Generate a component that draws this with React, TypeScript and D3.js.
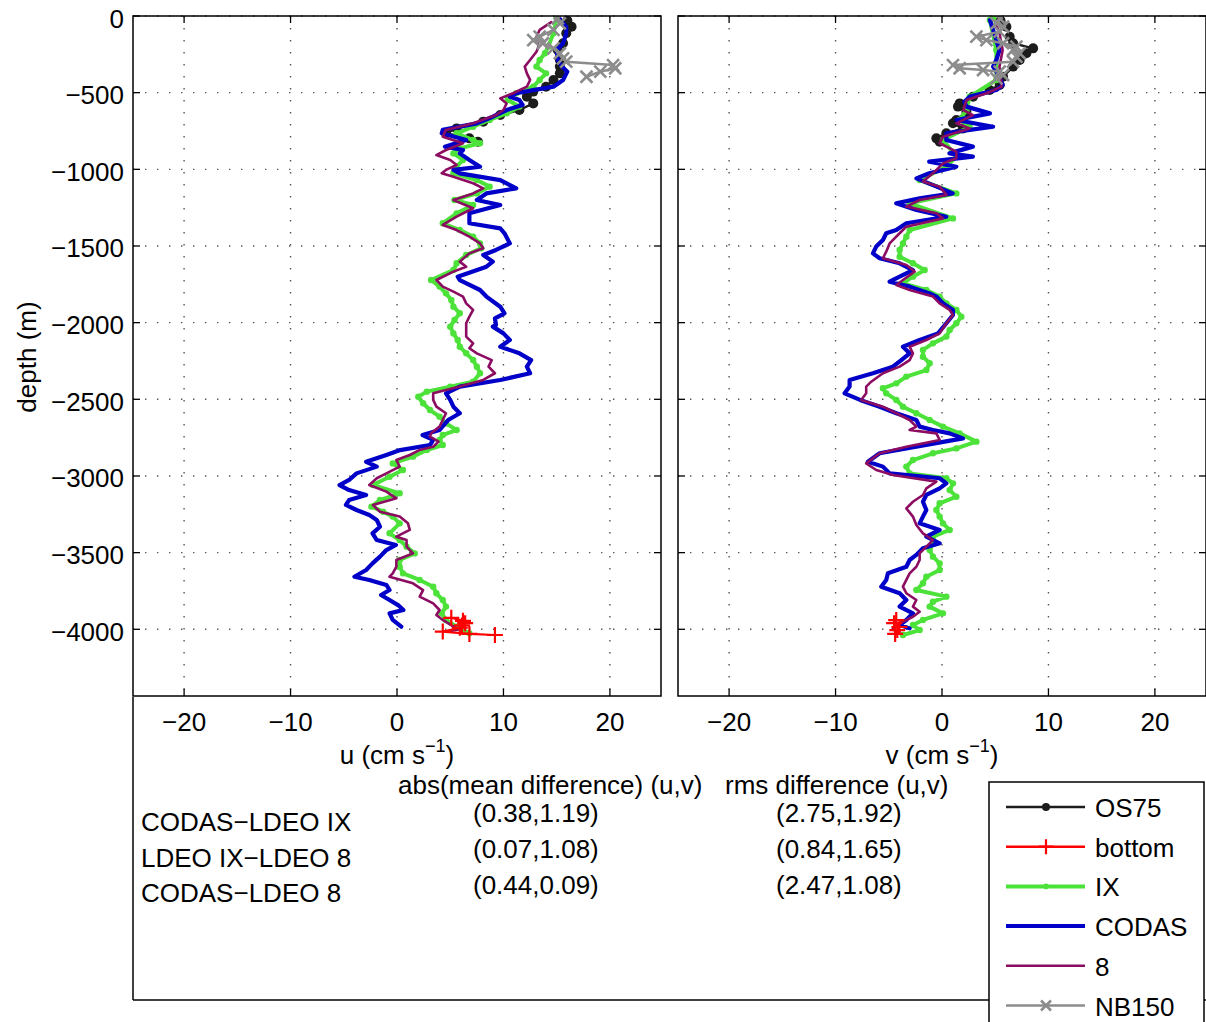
import React from 'react';
import * as d3 from 'd3';

// ---------- data: [depth (m), velocity (cm/s)] ----------
const DEPTH_TICKS = [0, -500, -1000, -1500, -2000, -2500, -3000, -3500, -4000];
const VEL_TICKS = [-20, -10, 0, 10, 20];

const uOS75: [number, number][] = [[-30,16.0],[-70,16.4],[-113,15.9],[-178,15.6],[-222,15.1],[-287,15.3],[-330,15.3],[-374,15.3],[-417,14.7],[-461,14.0],[-493,12.8],[-526,12.2],[-570,12.8],[-613,11.5],[-646,9.7],[-689,8.1],[-733,5.6],[-765,4.6],[-798,6.8],[-820,7.6]];
const uBottom: [number, number][] = [[-3925,5.1],[-3945,6.2],[-3960,6.4],[-3975,6.1],[-3990,5.9],[-4015,4.3],[-4030,6.8],[-4037,9.2]];
const uIX: [number, number][] = [[-15,15.0],[-113,14.7],[-200,14.2],[-243,13.9],[-287,13.4],[-330,13.1],[-374,14.0],[-417,13.4],[-461,12.8],[-504,11.2],[-548,10.4],[-591,11.5],[-635,10.3],[-678,8.7],[-722,7.15],[-765,5.6],[-809,7.15],[-830,7.8],[-863,5.9],[-896,5.3],[-939,6.2],[-983,5.6],[-1026,5.3],[-1070,7.5],[-1113,8.7],[-1157,7.5],[-1200,5.4],[-1233,7.15],[-1287,5.6],[-1352,4.3],[-1396,5.9],[-1439,7.15],[-1483,7.8],[-1515,7.9],[-1559,6.5],[-1613,5.6],[-1657,5.3],[-1722,3.2],[-1765,4.0],[-1809,4.6],[-1852,5.1],[-1896,5.3],[-1939,5.9],[-1983,5.4],[-2026,5.0],[-2070,5.3],[-2113,5.7],[-2157,5.9],[-2200,6.5],[-2244,7.15],[-2287,7.5],[-2330,7.8],[-2385,7.15],[-2417,5.0],[-2450,2.8],[-2483,2.0],[-2526,2.45],[-2570,3.1],[-2613,4.0],[-2657,4.6],[-2700,5.6],[-2733,4.3],[-2765,4.0],[-2798,4.3],[-2831,2.8],[-2874,1.5],[-2918,-0.4],[-2961,0.56],[-3005,-0.7],[-3059,-2.26],[-3113,0.25],[-3157,-1.6],[-3200,-2.4],[-3233,-1.3],[-3265,-0.4],[-3309,0.25],[-3374,-0.7],[-3418,0.25],[-3461,0.9],[-3505,1.66],[-3548,0.25],[-3592,0.25],[-3635,0.56],[-3678,2.13],[-3722,3.4],[-3765,3.7],[-3809,4.3],[-3852,4.6],[-3896,4.2],[-3939,4.6],[-3983,5.6],[-4026,6.8]];
const uCODAS: [number, number][] = [[-20,15.3],[-70,15.9],[-113,15.9],[-178,15.6],[-222,15.0],[-287,15.1],[-330,15.5],[-363,16.0],[-417,15.6],[-461,14.7],[-483,12.8],[-504,11.2],[-526,10.6],[-548,11.5],[-580,11.8],[-613,10.3],[-657,9.0],[-700,7.5],[-743,4.3],[-765,4.2],[-809,6.5],[-852,4.5],[-874,6.2],[-896,5.9],[-939,6.8],[-983,7.8],[-1004,5.3],[-1026,5.9],[-1070,9.7],[-1124,11.2],[-1157,8.4],[-1200,7.5],[-1233,9.7],[-1287,6.8],[-1352,6.8],[-1385,9.7],[-1417,10.1],[-1483,10.6],[-1526,9.3],[-1559,8.1],[-1602,9.0],[-1635,8.4],[-1700,5.7],[-1722,5.9],[-1787,7.8],[-1830,8.4],[-1896,9.7],[-1939,10.1],[-1972,9.2],[-2015,9.3],[-2026,9.0],[-2070,10.0],[-2113,10.6],[-2157,9.7],[-2200,11.5],[-2244,12.6],[-2287,12.2],[-2330,12.5],[-2374,9.7],[-2417,5.9],[-2461,4.6],[-2504,5.0],[-2548,5.3],[-2591,5.9],[-2635,4.8],[-2700,4.0],[-2733,2.4],[-2765,3.4],[-2798,3.1],[-2831,0.3],[-2863,-1.0],[-2907,-2.9],[-2939,-1.9],[-2983,-3.8],[-3026,-4.5],[-3059,-5.4],[-3092,-4.5],[-3124,-2.9],[-3157,-4.5],[-3189,-4.8],[-3222,-3.8],[-3255,-2.6],[-3287,-1.9],[-3331,-1.6],[-3374,-2.3],[-3418,-1.9],[-3450,-0.1],[-3483,-1.0],[-3526,-1.6],[-3570,-2.3],[-3613,-2.9],[-3657,-4.0],[-3678,-2.6],[-3711,-1.0],[-3744,-0.7],[-3776,-1.5],[-3809,-0.7],[-3842,0.1],[-3874,0.6],[-3896,-0.7],[-3939,-0.4],[-3983,0.4]];
const u8: [number, number][] = [[-40,14.5],[-91,13.4],[-135,13.1],[-200,13.3],[-233,13.1],[-287,12.5],[-330,12.0],[-374,12.2],[-417,12.5],[-461,12.2],[-504,10.9],[-537,9.7],[-570,10.3],[-613,10.0],[-646,9.3],[-700,7.15],[-743,4.6],[-787,4.3],[-830,6.2],[-874,4.6],[-907,3.7],[-939,5.0],[-972,5.6],[-1004,4.6],[-1026,4.2],[-1048,5.3],[-1091,7.15],[-1124,8.1],[-1157,7.15],[-1200,5.3],[-1254,7.15],[-1309,5.6],[-1363,4.3],[-1396,5.6],[-1439,6.8],[-1483,7.8],[-1515,8.1],[-1548,6.8],[-1602,5.9],[-1635,6.5],[-1667,5.3],[-1722,3.7],[-1765,4.3],[-1798,5.3],[-1830,6.2],[-1874,6.5],[-1917,7.15],[-1961,6.8],[-2004,6.5],[-2048,6.5],[-2091,6.5],[-2135,7.15],[-2167,6.8],[-2200,7.5],[-2244,8.9],[-2287,8.6],[-2330,9.2],[-2374,8.1],[-2417,5.9],[-2461,3.4],[-2504,3.4],[-2548,3.7],[-2591,4.6],[-2635,4.3],[-2678,4.0],[-2722,3.2],[-2744,3.1],[-2776,3.9],[-2809,3.4],[-2831,2.1],[-2863,1.2],[-2896,-0.06],[-2939,0.25],[-2983,-1.0],[-3015,-1.9],[-3059,-2.6],[-3102,-1.0],[-3146,-0.06],[-3189,-2.26],[-3233,-1.6],[-3265,0.25],[-3309,1.03],[-3352,1.2],[-3396,-0.06],[-3418,0.9],[-3461,0.9],[-3505,1.5],[-3548,-0.06],[-3592,-0.06],[-3635,-0.4],[-3657,-0.7],[-3700,1.5],[-3744,2.45],[-3787,2.13],[-3831,3.4],[-3874,4.0],[-3907,3.7],[-3939,4.3],[-3983,5.3],[-4000,5.9],[-4015,4.6]];
const uNB150: [number, number][] = [[-15,15.1],[-48,15.3],[-91,14.7],[-135,13.4],[-157,12.8],[-178,13.7],[-211,14.7],[-243,15.3],[-276,15.6],[-298,15.9],[-320,20.3],[-341,20.5],[-363,19.1],[-396,17.8]];

const vOS75: [number, number][] = [[-30,5.5],[-70,6.05],[-135,6.36],[-178,6.68],[-211,8.56],[-243,7.93],[-287,7.3],[-330,6.68],[-396,5.74],[-450,5.42],[-483,4.48],[-526,2.92],[-570,1.66],[-591,1.5],[-624,2.29],[-678,1.35],[-700,1.03],[-733,1.97],[-765,0.41],[-798,-0.53],[-820,-0.22]];
const vBottom: [number, number][] = [[-3940,-4.3],[-3960,-4.5],[-3985,-4.0],[-4005,-4.2],[-4030,-4.4]];
const vIX: [number, number][] = [[-15,4.8],[-26,4.5],[-222,5.1],[-417,5.1],[-526,2.6],[-613,2.3],[-678,1.66],[-722,2.6],[-809,0.09],[-917,1.35],[-983,0.41],[-1070,-2.1],[-1157,1.35],[-1222,-3.04],[-1320,1.03],[-1396,-3.04],[-1439,-3.35],[-1483,-3.67],[-1526,-3.98],[-1570,-3.98],[-1613,-2.73],[-1657,-1.63],[-1700,-2.73],[-1744,-3.67],[-1787,-1.47],[-1830,-0.22],[-1874,0.41],[-1917,1.35],[-1961,1.82],[-2004,1.35],[-2048,0.72],[-2091,0.41],[-2135,-0.85],[-2178,-1.79],[-2222,-1.79],[-2265,-1.16],[-2309,-1.47],[-2352,-3.35],[-2396,-4.29],[-2428,-5.55],[-2461,-5.24],[-2504,-4.29],[-2548,-3.67],[-2591,-2.41],[-2635,-1.16],[-2678,0.09],[-2722,1.66],[-2776,3.23],[-2820,1.35],[-2852,-0.85],[-2896,-2.73],[-2939,-3.35],[-2983,-3.04],[-3015,0.41],[-3048,1.03],[-3092,0.72],[-3135,1.35],[-3178,-0.22],[-3222,-0.53],[-3265,-0.22],[-3309,0.09],[-3352,0.72],[-3396,-0.85],[-3439,-0.85],[-3483,-1.16],[-3526,-0.85],[-3570,-0.22],[-3613,-0.22],[-3657,-1.47],[-3700,-1.79],[-3744,-2.41],[-3787,0.41],[-3820,-0.85],[-3852,-1.16],[-3896,0.09],[-3939,-1.79],[-3972,-2.73],[-4005,-2.1],[-4037,-3.67]];
const vCODAS: [number, number][] = [[-26,4.5],[-91,4.8],[-157,5.1],[-222,5.4],[-287,5.1],[-330,4.8],[-396,5.4],[-450,5.7],[-483,5.1],[-526,2.6],[-559,2.1],[-591,2.3],[-635,4.5],[-678,1.35],[-722,4.8],[-765,0.4],[-809,0.4],[-852,2.9],[-896,0.7],[-917,2.9],[-950,-1.2],[-983,1.35],[-1004,0.1],[-1026,-1.2],[-1059,-2.4],[-1113,-0.5],[-1157,1.0],[-1189,-2.1],[-1222,-4.3],[-1265,-2.4],[-1309,0.4],[-1352,-3.35],[-1396,-4.3],[-1417,-5.24],[-1461,-5.55],[-1504,-6.18],[-1548,-6.49],[-1580,-5.86],[-1613,-3.98],[-1657,-2.73],[-1700,-3.98],[-1733,-4.92],[-1765,-3.04],[-1809,-1.16],[-1830,-0.53],[-1874,0.09],[-1917,1.03],[-1950,1.03],[-2004,0.41],[-2070,-0.38],[-2113,-2.1],[-2157,-3.67],[-2200,-3.04],[-2244,-3.82],[-2287,-4.61],[-2330,-6.49],[-2374,-8.68],[-2417,-8.68],[-2461,-9.15],[-2504,-7.7],[-2548,-5.86],[-2591,-4.29],[-2635,-2.41],[-2678,-2.1],[-2700,-0.85],[-2722,0.72],[-2755,1.97],[-2809,-2.41],[-2852,-5.86],[-2907,-6.96],[-2939,-5.55],[-2983,-4.92],[-3015,-0.22],[-3048,0.41],[-3081,-0.22],[-3124,-1.47],[-3168,-1.79],[-3222,-1.47],[-3265,-1.79],[-3309,-2.1],[-3352,-0.22],[-3396,-1.47],[-3439,-0.22],[-3472,-1.79],[-3515,-2.41],[-3548,-3.04],[-3592,-3.35],[-3635,-5.08],[-3678,-5.24],[-3722,-5.71],[-3765,-3.98],[-3809,-3.35],[-3852,-3.98],[-3896,-2.73],[-3939,-3.35],[-3972,-3.98],[-3994,-3.04]];
const v8: [number, number][] = [[-40,5.0],[-113,5.4],[-222,5.7],[-330,5.4],[-461,5.6],[-504,4.2],[-548,2.3],[-613,2.0],[-646,2.9],[-700,1.35],[-733,2.6],[-787,0.09],[-830,-0.22],[-885,1.35],[-928,1.35],[-961,0.09],[-1026,-0.85],[-1080,-1.79],[-1113,-0.22],[-1167,0.41],[-1200,-2.1],[-1243,-3.35],[-1287,-0.53],[-1320,0.09],[-1374,-3.35],[-1417,-3.98],[-1483,-4.92],[-1537,-5.24],[-1580,-5.55],[-1624,-3.35],[-1667,-2.57],[-1722,-3.67],[-1754,-4.29],[-1787,-3.04],[-1830,-0.85],[-1874,-0.22],[-1917,0.72],[-1950,1.03],[-2004,0.41],[-2070,-0.22],[-2113,-1.47],[-2157,-3.04],[-2200,-2.73],[-2244,-3.04],[-2287,-3.98],[-2330,-5.55],[-2385,-6.65],[-2417,-7.12],[-2461,-7.12],[-2504,-7.59],[-2548,-5.55],[-2591,-4.29],[-2635,-3.04],[-2678,-2.41],[-2700,-3.04],[-2722,-0.53],[-2765,-0.22],[-2809,-3.35],[-2852,-5.86],[-2918,-7.12],[-2961,-6.18],[-2994,-4.61],[-3037,-0.53],[-3081,-1.47],[-3124,-1.79],[-3168,-2.73],[-3211,-3.35],[-3265,-2.73],[-3320,-2.41],[-3374,-1.79],[-3418,-0.85],[-3461,-1.47],[-3505,-2.1],[-3548,-2.1],[-3592,-2.41],[-3635,-3.04],[-3678,-3.35],[-3722,-3.67],[-3765,-3.35],[-3809,-2.41],[-3852,-2.73],[-3885,-2.1],[-3918,-2.73],[-3961,-3.98],[-3994,-4.61],[-4015,-3.98]];
const vNB150: [number, number][] = [[-15,5.42],[-48,5.11],[-70,5.74],[-102,5.42],[-135,3.23],[-157,4.17],[-178,5.74],[-200,6.99],[-222,6.68],[-243,7.3],[-265,6.99],[-298,6.68],[-320,1.03],[-341,1.66],[-352,3.86],[-363,5.42],[-385,5.74],[-407,5.11]];

const LEGEND_NAMES = ['OS75', 'bottom', 'IX', 'CODAS', '8', 'NB150'];
const STAT_LABELS = ['CODAS\u2212LDEO IX', 'LDEO IX\u2212LDEO 8', 'CODAS\u2212LDEO 8'];
const MEAN_DIFF = ['(0.38,1.19)', '(0.07,1.08)', '(0.44,0.09)'];
const RMS_DIFF = ['(2.75,1.92)', '(0.84,1.65)', '(2.47,1.08)'];

// ---------- styling ----------
type MarkerType = 'dot' | 'plus' | 'small' | 'none' | 'x';
interface Style { color: string; width: number; marker: MarkerType; }
const STYLES: Style[] = [
  { color: '#1c1c1c', width: 2.4, marker: 'dot' },
  { color: '#ff0000', width: 2.2, marker: 'plus' },
  { color: '#4ce23a', width: 4, marker: 'small' },
  { color: '#0000c8', width: 4.2, marker: 'none' },
  { color: '#8c0c62', width: 2.6, marker: 'none' },
  { color: '#8c8c8c', width: 2.5, marker: 'x' },
];
const DRAW_ORDER = [0, 2, 3, 4, 1, 5];

const W = 1206, H = 1022;
const TOP = 16, BOT = 696;
const FONT = '"Liberation Sans", Arial, Helvetica, sans-serif';
const FS = 26;

function Marker({ type, x, y, color, legend }: { type: MarkerType; x: number; y: number; color: string; legend?: boolean }) {
  if (type === 'dot') return <circle cx={x} cy={y} r={legend ? 4 : 5} fill={color} />;
  if (type === 'small') return <circle cx={x} cy={y} r={legend ? 2.8 : 3.2} fill={color} />;
  if (type === 'plus') {
    const s = legend ? 7.5 : 8;
    return <path d={`M${x - s},${y}H${x + s}M${x},${y - s}V${y + s}`} stroke={color} strokeWidth={2.2} fill="none" />;
  }
  if (type === 'x') {
    const s = legend ? 5 : 6;
    return <path d={`M${x - s},${y - s}L${x + s},${y + s}M${x - s},${y + s}L${x + s},${y - s}`} stroke={color} strokeWidth={2.6} fill="none" />;
  }
  return null;
}

const fmt = (v: number) => (v < 0 ? '\u2212' + Math.abs(v) : String(v));

function Panel({ x0, x1, series, showY, label, id }: { x0: number; x1: number; series: [number, number][][]; showY: boolean; label: string; id: string }) {
  const xs = d3.scaleLinear().domain([-24.8, 24.8]).range([x0, x1]);
  const ys = d3.scaleLinear().domain([0, -4435]).range([TOP, BOT]);
  const line = d3.line<[number, number]>().x(d => xs(d[1])).y(d => ys(d[0]));
  const tick = 7;
  return (
    <g>
      <defs>
        <clipPath id={id}><rect x={x0} y={TOP} width={x1 - x0} height={BOT - TOP} /></clipPath>
      </defs>
      <rect x={x0} y={TOP} width={x1 - x0} height={BOT - TOP} fill="#fff" />
      {VEL_TICKS.map(t => (
        <line key={'gx' + t} x1={xs(t)} x2={xs(t)} y1={TOP} y2={BOT} stroke="#555" strokeWidth={1.4} strokeDasharray="1.4 10.6" />
      ))}
      {DEPTH_TICKS.map(t => (
        <line key={'gy' + t} x1={x0} x2={x1} y1={ys(t)} y2={ys(t)} stroke="#555" strokeWidth={1.4} strokeDasharray="1.4 10.6" />
      ))}
      <g clipPath={`url(#${id})`}>
        {DRAW_ORDER.map(i => {
          const st = STYLES[i];
          const data = series[i];
          return (
            <g key={i}>
              <path d={line(data) || ''} fill="none" stroke={st.color} strokeWidth={st.width} strokeLinejoin="round" strokeLinecap="round" />
              {st.marker !== 'none' && data.map((d, k) => (
                <Marker key={k} type={st.marker} x={xs(d[1])} y={ys(d[0])} color={st.color} />
              ))}
            </g>
          );
        })}
      </g>
      {VEL_TICKS.map(t => (
        <g key={'tx' + t}>
          <line x1={xs(t)} x2={xs(t)} y1={BOT} y2={BOT - tick} stroke="#000" strokeWidth={1.3} />
          <line x1={xs(t)} x2={xs(t)} y1={TOP} y2={TOP + tick} stroke="#000" strokeWidth={1.3} />
          <text x={xs(t)} y={731} textAnchor="middle" fontFamily={FONT} fontSize={FS}>{fmt(t)}</text>
        </g>
      ))}
      {DEPTH_TICKS.map(t => (
        <g key={'ty' + t}>
          <line x1={x0} x2={x0 + tick} y1={ys(t)} y2={ys(t)} stroke="#000" strokeWidth={1.3} />
          <line x1={x1} x2={x1 - tick} y1={ys(t)} y2={ys(t)} stroke="#000" strokeWidth={1.3} />
          {showY && <text x={124} y={ys(t) + 11.5} textAnchor="end" fontFamily={FONT} fontSize={FS}>{fmt(t)}</text>}
        </g>
      ))}
      <rect x={x0} y={TOP} width={x1 - x0} height={BOT - TOP} fill="none" stroke="#000" strokeWidth={1.5} />
      <text x={(x0 + x1) / 2} y={764} textAnchor="middle" fontFamily={FONT} fontSize={FS}>
        {label + ' (cm s'}
        <tspan dy={-12} fontSize={18}>{'\u22121'}</tspan>
        <tspan dy={12}>)</tspan>
      </text>
    </g>
  );
}

export default function App() {
  const legendX = 989, legendY = 782;
  return (
    <svg width={W} height={H} style={{ position: 'absolute', left: 0, top: 0, display: 'block', background: '#fff' }}>
      <rect x={0} y={0} width={W} height={H} fill="#fff" />
      <Panel id="cl" x0={133} x1={661} series={[uOS75, uBottom, uIX, uCODAS, u8, uNB150]} showY label="u" />
      <Panel id="cr" x0={678} x1={1206} series={[vOS75, vBottom, vIX, vCODAS, v8, vNB150]} showY={false} label="v" />
      <text transform="translate(36,357) rotate(-90)" textAnchor="middle" fontFamily={FONT} fontSize={FS}>depth (m)</text>

      <line x1={133} x2={133} y1={697} y2={1000} stroke="#000" strokeWidth={1.5} />
      <line x1={133} x2={1206} y1={1000} y2={1000} stroke="#000" strokeWidth={1.5} />
      <text x={398} y={794} fontFamily={FONT} fontSize={FS}>abs(mean difference) (u,v)</text>
      <text x={725} y={794} fontFamily={FONT} fontSize={FS}>rms difference (u,v)</text>
      {STAT_LABELS.map((s, i) => (
        <text key={s} x={141} y={831 + i * 35.5} fontFamily={FONT} fontSize={FS}>{s}</text>
      ))}
      {MEAN_DIFF.map((s, i) => (
        <text key={'m' + i} x={473} y={822 + i * 35.8} fontFamily={FONT} fontSize={FS}>{s}</text>
      ))}
      {RMS_DIFF.map((s, i) => (
        <text key={'r' + i} x={776} y={822 + i * 35.8} fontFamily={FONT} fontSize={FS}>{s}</text>
      ))}

      <rect x={legendX} y={legendY} width={215} height={260} fill="#fff" stroke="#000" strokeWidth={1.5} />
      {LEGEND_NAMES.map((name, i) => {
        const y = 807 + i * 39.7;
        const st = STYLES[i];
        return (
          <g key={name}>
            <line x1={1006} x2={1085} y1={y} y2={y} stroke={st.color} strokeWidth={i === 2 || i === 3 ? 4 : 2.4} />
            <Marker type={st.marker} x={1046} y={y} color={st.color} legend />
            <text x={1095} y={y + 10} fontFamily={FONT} fontSize={FS}>{name}</text>
          </g>
        );
      })}
    </svg>
  );
}
